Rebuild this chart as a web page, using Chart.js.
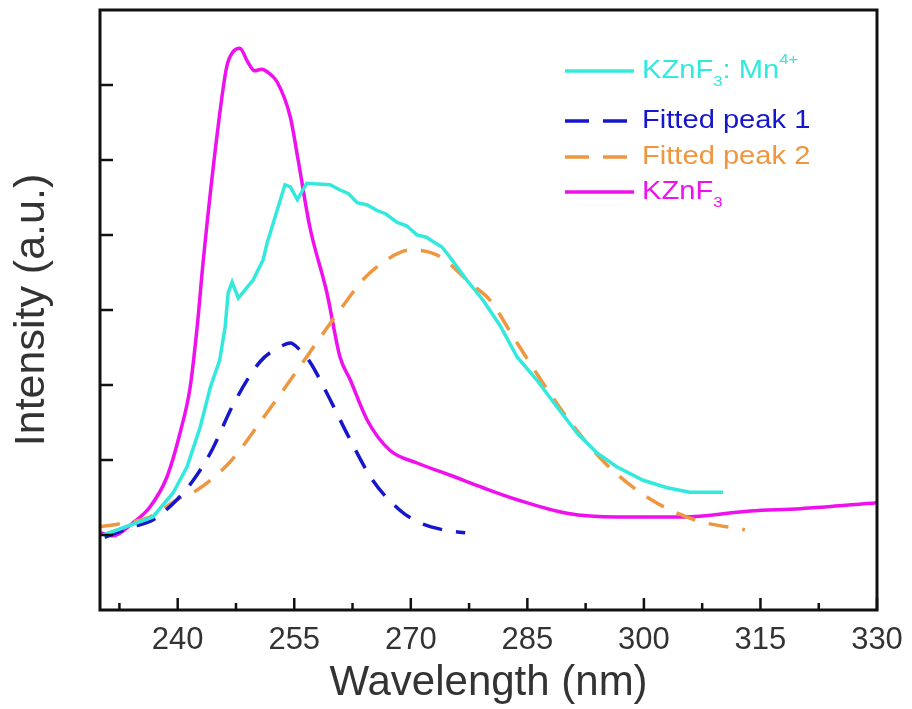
<!DOCTYPE html>
<html>
<head>
<meta charset="utf-8">
<script src="https://cdn.jsdelivr.net/npm/chart.js@4.4.1/dist/chart.umd.min.js"></script>
<style>
  html, body { margin: 0; padding: 0; background: #fff; overflow: hidden; }
  #wrap { width: 912px; height: 709px; }
</style>
</head>
<body>
<div id="wrap"><canvas id="spec"></canvas></div>
<script>
// Excitation spectra
const mnWave = [230.4, 236.8, 239.4, 241.2, 242.9, 244.2, 245.4, 246.1, 246.5, 247.0, 247.8, 249.7, 251.0, 251.5, 252.8, 253.8, 254.5, 255.4, 256.6, 258.0, 259.6, 260.9, 262.0, 263.1, 264.4, 265.6, 266.8, 268.2, 269.5, 270.8, 272.0, 272.9, 274.0, 275.0, 277.2, 279.3, 281.5, 283.7, 286.2, 288.8, 291.4, 294.0, 296.5, 299.9, 303.0, 305.9, 310.2];
const mnInt = [1.0, 1.24, 1.56, 1.91, 2.44, 2.97, 3.33, 3.77, 4.23, 4.37, 4.16, 4.4, 4.67, 4.89, 5.33, 5.67, 5.64, 5.47, 5.69, 5.68, 5.67, 5.6, 5.55, 5.43, 5.4, 5.33, 5.28, 5.17, 5.12, 5.0, 4.97, 4.91, 4.84, 4.71, 4.4, 4.13, 3.79, 3.37, 3.07, 2.71, 2.36, 2.09, 1.91, 1.73, 1.63, 1.57, 1.57];

const peak1Wave = [230.6, 234.2, 236.8, 239.9, 242.0, 244.4, 247.1, 250.6, 253.2, 254.5, 255.7, 257.0, 259.2, 262.0, 265.1, 268.6, 271.2, 274.1, 277.0];
const peak1Int = [0.97, 1.11, 1.2, 1.47, 1.73, 2.13, 2.73, 3.31, 3.51, 3.56, 3.47, 3.31, 2.89, 2.31, 1.73, 1.33, 1.16, 1.07, 1.03];

const peak2Wave = [230.0, 232.6, 236.4, 239.9, 242.5, 246.7, 251.0, 254.8, 259.0, 261.8, 263.8, 266.9, 269.9, 273.8, 277.6, 280.2, 283.2, 286.6, 290.5, 295.0, 300.8, 306.6, 313.0];
const peak2Int = [1.11, 1.15, 1.24, 1.47, 1.6, 1.97, 2.56, 3.11, 3.73, 4.13, 4.4, 4.67, 4.8, 4.71, 4.36, 4.13, 3.64, 3.09, 2.51, 1.96, 1.48, 1.2, 1.07];

const hostWave = [230.0, 231.7, 234.2, 236.4, 238.6, 240.3, 241.6, 242.5, 243.3, 245.1, 246.3, 247.1, 248.0, 249.0, 249.9, 250.8, 251.6, 252.8, 254.5, 255.5, 257.0, 259.2, 260.9, 262.2, 264.4, 267.3, 270.8, 275.0, 279.3, 283.7, 290.1, 296.5, 305.0, 313.7, 320.1, 330.0];
const hostInt = [1.03, 0.99, 1.16, 1.37, 1.77, 2.36, 2.97, 3.77, 4.67, 6.36, 7.24, 7.44, 7.49, 7.31, 7.19, 7.21, 7.17, 7.04, 6.57, 6.0, 5.11, 4.23, 3.37, 3.07, 2.53, 2.13, 1.96, 1.8, 1.63, 1.47, 1.29, 1.24, 1.24, 1.32, 1.35, 1.43];

const waveTicks = [240, 255, 270, 285, 300, 315, 330];
const waveMinor = [232.5, 247.5, 262.5, 277.5, 292.5, 307.5, 322.5];
const intTicks = [1, 2, 3, 4, 5, 6, 7];

const COLORS = {
    mn: '#33e8dc',
    peak1: '#1616cc',
    peak2: '#ef9640',
    host: '#ee11ee',
    axis: '#111111',
    text: '#333333'
};

const FONT = '"Liberation Sans", Arial, sans-serif';

const legendItems = [
    { color: COLORS.mn, dash: [], y: 71, parts: [['KZnF', 0], ['3', 1], [': Mn', 0], ['4+', -1]] },
    { color: COLORS.peak1, dash: [24, 14], y: 121, parts: [['Fitted peak 1', 0]] },
    { color: COLORS.peak2, dash: [24, 14], y: 157, parts: [['Fitted peak 2', 0]] },
    { color: COLORS.host, dash: [], y: 192, parts: [['KZnF', 0], ['3', 1]] }
];

function pairs(xs, ys) {
    return xs.map((x, i) => ({ x: x, y: ys[i] }));
}

const frame = {
    id: 'frame',
    afterDraw(chart) {
        const ctx = chart.ctx;
        const area = chart.chartArea;
        const xs = chart.scales.x;
        const ys = chart.scales.y;
        ctx.save();
        ctx.strokeStyle = COLORS.axis;
        ctx.lineWidth = 3;
        ctx.strokeRect(area.left, area.top, area.right - area.left, area.bottom - area.top);

        ctx.lineWidth = 2.5;
        ctx.beginPath();
        waveTicks.forEach((v) => {
            const px = xs.getPixelForValue(v);
            ctx.moveTo(px, area.bottom);
            ctx.lineTo(px, area.bottom - 12);
        });
        waveMinor.forEach((v) => {
            const px = xs.getPixelForValue(v);
            ctx.moveTo(px, area.bottom);
            ctx.lineTo(px, area.bottom - 7);
        });
        intTicks.forEach((v) => {
            const py = ys.getPixelForValue(v);
            ctx.moveTo(area.left, py);
            ctx.lineTo(area.left + 13, py);
        });
        ctx.stroke();

        // legend, text a little wider than the font like the original
        legendItems.forEach((item) => {
            const y = item.y;
            ctx.strokeStyle = item.color;
            ctx.lineWidth = 3.5;
            ctx.setLineDash(item.dash);
            ctx.beginPath();
            ctx.moveTo(565, y);
            ctx.lineTo(634, y);
            ctx.stroke();
            ctx.setLineDash([]);
            ctx.fillStyle = item.color;
            ctx.textBaseline = 'middle';
            let x = 642;
            item.parts.forEach(([txt, shift]) => {
                const size = shift === 0 ? 26 : 15;
                ctx.font = size + 'px ' + FONT;
                ctx.save();
                ctx.translate(x, y + shift * 11);
                ctx.scale(1.12, 1);
                ctx.fillText(txt, 0, 0);
                ctx.restore();
                x += ctx.measureText(txt).width * 1.12;
            });
        });
        ctx.restore();
    }
};

const ctx = document.getElementById('spec').getContext('2d');
new Chart(ctx, {
    type: 'line',
    data: {
        datasets: [
            { label: 'KZnF3: Mn4+', data: pairs(mnWave, mnInt), borderColor: COLORS.mn, borderWidth: 3.5, tension: 0 },
            { label: 'Fitted peak 1', data: pairs(peak1Wave, peak1Int), borderColor: COLORS.peak1, borderWidth: 3.5, borderDash: [20, 14], cubicInterpolationMode: 'monotone' },
            { label: 'Fitted peak 2', data: pairs(peak2Wave, peak2Int), borderColor: COLORS.peak2, borderWidth: 3.5, borderDash: [20, 14], cubicInterpolationMode: 'monotone' },
            { label: 'KZnF3', data: pairs(hostWave, hostInt), borderColor: COLORS.host, borderWidth: 3.5, cubicInterpolationMode: 'monotone' }
        ]
    },
    options: {
        responsive: true,
        maintainAspectRatio: false,
        animation: false,
        events: [],
        layout: { padding: { top: 10, right: 35, left: 0, bottom: 0 } },
        elements: { point: { radius: 0 } },
        plugins: { legend: { display: false }, tooltip: { enabled: false } },
        scales: {
            x: {
                type: 'linear',
                min: 230,
                max: 330,
                afterBuildTicks(scale) {
                    scale.ticks = waveTicks.map((v) => ({ value: v }));
                },
                afterFit(scale) { scale.height = 99; },
                grid: { display: false },
                border: { display: false },
                ticks: {
                    padding: 4,
                    color: COLORS.text,
                    maxRotation: 0,
                    font: { family: FONT, size: 31 }
                },
                title: {
                    display: true,
                    text: 'Wavelength (nm)',
                    color: COLORS.text,
                    padding: { top: 0, bottom: 0 },
                    font: { family: FONT, size: 42 }
                }
            },
            y: {
                min: 0,
                max: 8,
                afterFit(scale) { scale.width = 100; },
                grid: { display: false },
                border: { display: false },
                ticks: { display: false },
                title: {
                    display: true,
                    text: 'Intensity (a.u.)',
                    color: COLORS.text,
                    padding: { top: 6, bottom: 0 },
                    font: { family: FONT, size: 43 }
                }
            }
        }
    },
    plugins: [frame]
});
</script>
</body>
</html>
